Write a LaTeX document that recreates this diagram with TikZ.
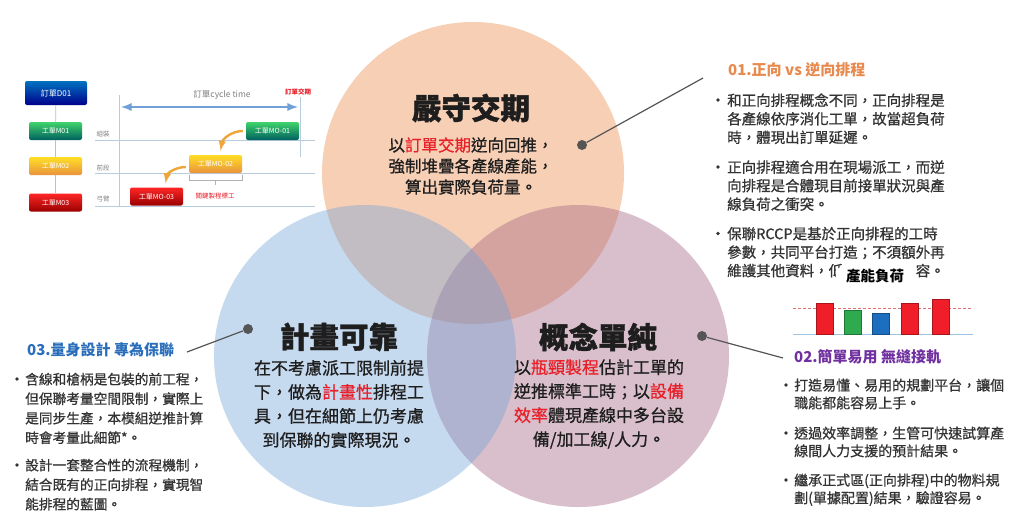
\documentclass[tikz,border=0pt]{standalone}
\usepackage{fontspec}
\setmainfont{Noto Sans CJK TC}
\newfontfamily\medium{Noto Sans CJK TC}[FakeBold=0.7]
\newfontfamily\heavy{Noto Sans CJK TC}[BoldFeatures={FakeBold=1.2}]
\usepackage{xcolor}
\usepackage{tikz}
\usetikzlibrary{calc}
\usetikzlibrary{arrows}
\usetikzlibrary{positioning}

\definecolor{peach}{HTML}{F7CFB5}
\definecolor{skyblue}{HTML}{70A2D7}
\definecolor{mauve}{HTML}{A05F7F}
\definecolor{ink}{HTML}{1E1E1E}
\definecolor{body}{HTML}{333333}
\definecolor{hot}{HTML}{E8202A}
\definecolor{pin}{HTML}{555555}
\definecolor{headorange}{HTML}{E8894D}
\definecolor{headpurple}{HTML}{7030A0}
\definecolor{headblue}{HTML}{2A6EBB}
\definecolor{barred}{HTML}{F01E28}
\definecolor{bargreen}{HTML}{2EAA4F}
\definecolor{barblue}{HTML}{1E6EC0}
\definecolor{axisblue}{HTML}{9DC3E6}
\definecolor{limitred}{HTML}{E07070}
\definecolor{lanecol}{HTML}{B8CCE0}
\definecolor{floworange}{HTML}{F0A53A}
\definecolor{cyclearrow}{HTML}{6FA0D8}

\newcommand{\keyw}[1]{\textcolor{hot}{#1}}

\tikzset{
  title/.style={inner sep=0pt, text=ink, font=\fontsize{29.5}{32}\selectfont\heavy\bfseries},
  circtext/.style={inner sep=0pt, align=center, text=ink},
  sidehead/.style={anchor=west, inner sep=0pt, font=\fontsize{15}{18}\selectfont\bfseries},
  sidetext/.style={anchor=north west, inner sep=0pt, align=left, text=body},
  bul/.style={circle, fill=body, inner sep=0pt, minimum size=3.6pt},
  pindot/.style={circle, fill=pin, inner sep=0pt, minimum size=10pt},
  pinline/.style={draw=pin, line width=1.2pt},
  job/.style={rounded corners=2pt, minimum width=53pt, minimum height=18pt, inner sep=0pt, text=white, font=\fontsize{7}{8}\selectfont},
  jobblue/.style={job, top color=blue!40!cyan!75!black, bottom color=blue!55!black},
  jobgreen/.style={job, top color=green!55!teal!75, bottom color=teal!75!black},
  jobgold/.style={job, top color=yellow!70!orange!85, bottom color=orange!60!brown!85},
  jobred/.style={job, top color=red!85, bottom color=red!60!black},
  lane/.style={draw=lanecol, line width=0.7pt},
  tiny/.style={inner sep=0pt, font=\fontsize{6.5}{7}\selectfont},
  flow/.style={draw=floworange, line width=2.4pt, -latex},
}

\begin{document}
\begin{tikzpicture}[x=1pt, y=-1pt]
\useasboundingbox (0,0) rectangle (1024,531);
\fill[white] (0,0) rectangle (1024,531);

% three circles
\fill[peach] (473,173) circle (151);
\fill[mauve, fill opacity=0.4] (578,356) circle (151);
\fill[skyblue, fill opacity=0.4] (365,356) circle (151);

\node[title] (t1) at (471,108) {嚴守交期};
\node[title] (t2) at (339,337) {計畫可靠};
\node[title] (t3) at (598,337) {概念單純};

\node[circtext, font=\fontsize{16.5}{21}\selectfont\medium] (c1) at (471,166)
  {以\keyw{訂單交期}逆向回推，\\強制堆疊各產線產能，\\算出實際負荷量。};
\node[circtext, font=\fontsize{17}{24}\selectfont\medium] (c2) at (339,404)
  {在不考慮派工限制前提\\下，做為\keyw{計畫性}排程工\\具，但在細節上仍考慮\\到保聯的實際現況。};
\node[circtext, font=\fontsize{17}{24}\selectfont\medium] (c3) at (599,404)
  {以\keyw{瓶頸製程}估計工單的\\逆推標準工時；以\keyw{設備}\\\keyw{效率}體現產線中多台設\\備/加工線/人力。};

% pins
\node[pindot] (p1) at (582,145) {};
\coordinate (q1) at (703,78);
\draw[pinline] (p1) -- (q1);
\node[pindot] (p2) at (248,329) {};
\coordinate (q2) at (187,352);
\draw[pinline] (p2) -- (q2);
\node[pindot] (p3) at (702,336) {};
\coordinate (q3) at (783,358);
\draw[pinline] (p3) -- (q3);

% 01
\node[sidehead, text=headorange] (h1) at (728,70) {01.正向 vs 逆向排程};
\begin{scope}[font=\fontsize{14.5}{18.5}\selectfont\medium]
\node[sidetext] (r1) at (727,93.2) {和正向排程概念不同，正向排程是\\各產線依序消化工單，故當超負荷\\時，體現出訂單延遲。};
\node[sidetext] (r2) at (727,160.2) {正向排程適合用在現場派工，而逆\\向排程是合體現目前接單狀況與產\\線負荷之衝突。};
\node[sidetext] (r3) at (727,226.7) {保聯RCCP是基於正向排程的工時\\參數，共同平台打造；不須額外再\\維護其他資料，低\hspace{5em}容。};
\end{scope}
\node[bul] (r1b) at (718,100) {};
\node[bul] (r2b) at (718,167) {};
\node[bul] (r3b) at (718,233.5) {};

% capacity chart
\node[font=\fontsize{14.5}{16}\selectfont\bfseries, text=black, fill=white, text width=67pt, align=right, inner sep=1pt] (cap) at (870.5,276) {產能負荷};
\draw[densely dashed, draw=limitred, line width=0.6pt] (793,308) -- (973,308);
\draw[draw=axisblue, line width=0.8pt] (793,334) -- (973,334);
\foreach \bx/\bt/\bc in {816/303/barred, 844/310/bargreen, 872/313/barblue, 901/303/barred, 932/299/barred}
  \filldraw[fill=\bc, draw=\bc!70!black, line width=0.4pt] (\bx,334) rectangle ({\bx+17},\bt);

% 02
\node[sidehead, text=headpurple] (h2) at (794,357) {02.簡單易用 無縫接軌};
\begin{scope}[font=\fontsize{14}{17.7}\selectfont\medium]
\node[sidetext] (s1) at (794,378.4) {打造易懂、易用的規劃平台，讓個\\職能都能容易上手。};
\node[sidetext] (s2) at (794,426.4) {透過效率調整，生管可快速試算產\\線間人力支援的預計結果。};
\node[sidetext] (s3) at (794,473.4) {繼承正式區(正向排程)中的物料規\\劃(單據配置)結果，驗證容易。};
\end{scope}
\node[bul] (s1b) at (786,385) {};
\node[bul] (s2b) at (786,433) {};
\node[bul] (s3b) at (786,480) {};

% 03
\node[sidehead, text=headblue] (h3) at (27,350) {03.量身設計 專為保聯};
\begin{scope}[font=\fontsize{13.7}{19.5}\selectfont\medium]
\node[sidetext] (u1) at (25,372.6) {含線和槍柄是包裝的前工程，\\但保聯考量空間限制，實際上\\是同步生產，本模組逆推計算\\時會考量此細節*。};
\node[sidetext] (u2) at (25,458.6) {設計一套整合性的流程機制，\\結合既有的正向排程，實現智\\能排程的藍圖。};
\end{scope}
\node[bul] (u1b) at (17,379) {};
\node[bul] (u2b) at (17,465) {};

% backward scheduling sketch
\node[jobblue, minimum width=62pt, minimum height=24pt, font=\fontsize{8}{9}\selectfont] (d01) at (56,93) {訂單D01};
\node[jobgreen] (m01) at (55.5,131) {工單M01};
\node[jobgold] (m02) at (55.5,166) {工單M02};
\node[jobred] (m03) at (55.5,202.5) {工單M03};
\foreach \a/\b in {d01/m01, m01/m02, m02/m03}
  \draw[draw=gray!50, line width=0.7pt] (\a) -- (\b);

\draw[lane] (95,140) -- (315,140);
\draw[lane] (95,173) -- (315,173);
\draw[lane] (95,206) -- (315,206);
\draw[lane] (119,95) -- (119,206);
\draw[lane] (300,97) -- (300,157);
\node[tiny, text=gray] (l1) at (103,134) {組裝};
\node[tiny, text=gray] (l2) at (103,168) {前段};
\node[tiny, text=gray] (l3) at (103,199) {弓臂};

\coordinate (ct0) at (121,107);
\coordinate (ct1) at (298,107);
\draw[latex-latex, draw=cyclearrow, line width=2.6pt] (ct0) -- (ct1);
\node[inner sep=0pt, text=gray, font=\fontsize{8.5}{9}\selectfont] (cyc) at (222,95) {訂單cycle time};
\node[tiny, text=hot, font=\fontsize{6.5}{7}\selectfont\bfseries] (due) at (298,92) {訂單交期};

\node[jobgreen] (mo1) at (272.5,131) {工單MO-01};
\node[jobgold] (mo2) at (215.5,164) {工單MO-02};
\node[jobred] (mo3) at (156.5,196.5) {工單MO-03};
\draw[flow] ([xshift=-3pt]mo1.west) to[out=180, in=80] ([xshift=5pt, yshift=4pt]mo2.north);
\draw[flow] ([xshift=-3pt, yshift=-3pt]mo2.west) to[out=180, in=80] ([xshift=9pt, yshift=4pt]mo3.north);
\draw[draw=gray!60, line width=0.6pt] ([yshift=-2pt]mo2.south west) -- ++(0,5) -- ([yshift=-7pt]mo2.south east) -- ++(0,-5);
\draw[draw=gray!60, line width=0.6pt] ([yshift=-7pt]mo2.south) -- ++(0,5);
\node[tiny, text=hot] (crit) at (215,196) {關鍵製程標工};
\end{tikzpicture}
\end{document}
